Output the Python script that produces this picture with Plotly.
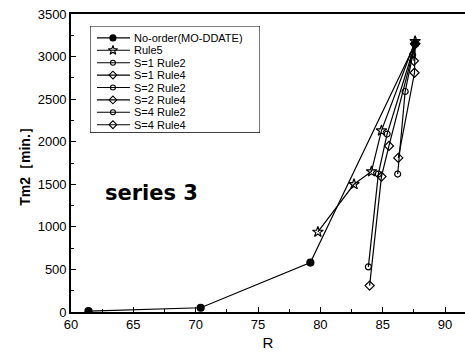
import plotly.graph_objects as go

# Tm2 versus R for the ordering rules
no_order_r = [61.4, 70.4, 79.2, 87.6]
no_order_t = [10, 50, 580, 3150]

rule5_r = [79.8, 82.7, 84.1, 84.9, 87.6]
rule5_t = [940, 1500, 1650, 2130, 3180]

s1_rule2_r = [83.85, 84.65, 85.35, 87.6]
s1_rule2_t = [530, 1620, 2090, 3150]

s1_rule4_r = [83.95, 84.9, 85.5, 87.6]
s1_rule4_t = [310, 1590, 1950, 3150]

s2_rule2_r = [86.2, 86.8, 87.6]
s2_rule2_t = [1620, 2590, 3150]

s2_rule4_r = [86.25, 87.55, 87.6]
s2_rule4_t = [1810, 2810, 3150]

s4_rule2_r = [87.4, 87.6]
s4_rule2_t = [3020, 3150]

s4_rule4_r = [87.5, 87.6]
s4_rule4_t = [2950, 3150]

x_ticks = [60, 65, 70, 75, 80, 85, 90]
y_ticks = [0, 500, 1000, 1500, 2000, 2500, 3000, 3500]

series = [
    ("No-order(MO-DDATE)", no_order_r, no_order_t, "circle", 7),
    ("Rule5", rule5_r, rule5_t, "star-open", 8),
    ("S=1 Rule2", s1_rule2_r, s1_rule2_t, "circle-open", 6),
    ("S=1 Rule4", s1_rule4_r, s1_rule4_t, "diamond-open", 7),
    ("S=2 Rule2", s2_rule2_r, s2_rule2_t, "circle-open", 6),
    ("S=2 Rule4", s2_rule4_r, s2_rule4_t, "diamond-open", 7),
    ("S=4 Rule2", s4_rule2_r, s4_rule2_t, "circle-open", 6),
    ("S=4 Rule4", s4_rule4_r, s4_rule4_t, "diamond-open", 7),
]

FONT = "Liberation Sans, Arial, sans-serif"

fig = go.Figure()
for name, xs, ys, sym, size in series:
    fig.add_trace(go.Scatter(
        x=xs, y=ys, name=name, mode="lines+markers", showlegend=False,
        line=dict(color="black", width=1.2),
        marker=dict(symbol=sym, size=size, color="black",
                    line=dict(color="black", width=1.2)),
    ))

# Compact legend box drawn on its own hidden axes (units: px inside the box)
row_gap = 12.4
first_row = 12
for i, (name, xs, ys, sym, size) in enumerate(series):
    ry = first_row + i * row_gap
    fig.add_trace(go.Scatter(
        x=[7, 40], y=[ry, ry], xaxis="x2", yaxis="y2", mode="lines",
        line=dict(color="black", width=1.1), showlegend=False, hoverinfo="skip",
    ))
    fig.add_trace(go.Scatter(
        x=[23], y=[ry], xaxis="x2", yaxis="y2", mode="markers",
        marker=dict(symbol=sym, size=size - 1, color="black",
                    line=dict(color="black", width=1.1)),
        showlegend=False, hoverinfo="skip",
    ))
    fig.add_annotation(
        text=name, x=42, y=ry, xref="x2", yref="y2", xanchor="left",
        yanchor="middle", showarrow=False,
        font=dict(size=11, color="black", family=FONT),
    )

fig.add_shape(
    type="rect", xref="x2", yref="y2", x0=0, x1=170, y0=0, y1=107,
    line=dict(color="black", width=1.3), fillcolor="white", layer="below",
)

fig.add_annotation(
    text="<b>series 3</b>", x=0.205, y=0.40, xref="paper", yref="paper",
    xanchor="center", yanchor="middle", showarrow=False,
    font=dict(size=21, color="black", family="DejaVu Sans, sans-serif"),
)

fig.update_layout(
    width=465, height=360,
    margin=dict(l=71, r=0, t=14, b=48),
    paper_bgcolor="white", plot_bgcolor="white",
    font=dict(family=FONT, color="black", size=13),
    showlegend=False,
    xaxis=dict(
        domain=[0, 1], anchor="y",
        range=[60, 91.6], tickvals=x_ticks, ticks="inside", ticklen=5,
        tickcolor="black", showline=True, linecolor="black", linewidth=1.6,
        mirror=True, showgrid=False, zeroline=False,
        minor=dict(dtick=2.5, ticks="inside", ticklen=3, tickcolor="black"),
        title=dict(text="R", font=dict(size=15), standoff=6),
        tickfont=dict(size=13),
    ),
    yaxis=dict(
        domain=[0, 1], anchor="x",
        range=[0, 3500], tickvals=y_ticks, ticks="inside", ticklen=5,
        tickcolor="black", showline=True, linecolor="black", linewidth=1.6,
        showgrid=False, zeroline=False,
        minor=dict(dtick=250, ticks="inside", ticklen=3, tickcolor="black"),
        title=dict(text="<b>Tm2［min.］</b>", font=dict(size=14), standoff=4),
        tickfont=dict(size=13),
    ),
    xaxis2=dict(domain=[0.048, 0.480], anchor="y2", range=[0, 170],
                visible=False, fixedrange=True),
    yaxis2=dict(domain=[0.601, 0.960], anchor="x2", range=[107, 0],
                visible=False, fixedrange=True),
)

fig.write_html("out.html")
